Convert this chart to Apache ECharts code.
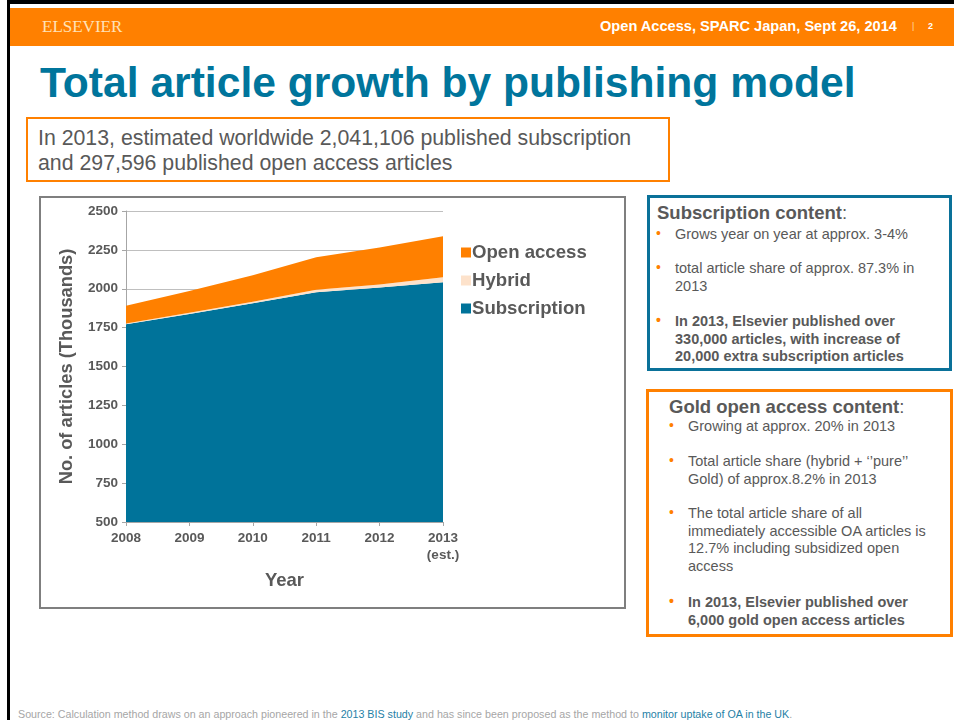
<!DOCTYPE html>
<html>
<head>
<meta charset="utf-8">
<script src="https://cdn.jsdelivr.net/npm/echarts@6/dist/echarts.min.js"></script>
<style>
  html,body{margin:0;padding:0;background:#fff;}
  body{width:954px;height:720px;position:relative;overflow:hidden;font-family:"Liberation Sans",Arial,sans-serif;}
  .abs{position:absolute;}
  #topline{left:7px;top:0;width:947px;height:4px;background:#000;}
  #leftline{left:7px;top:0;width:3px;height:720px;background:#000;}
  #header{left:10px;top:8px;width:944px;height:38px;background:#ff8000;}
  #logo{left:42px;top:17px;font-family:"Liberation Serif","DejaVu Serif",serif;font-size:17px;color:#ffe2b8;white-space:nowrap;}
  #hdr{left:600px;top:18px;font-size:14.6px;font-weight:bold;color:#fff;white-space:nowrap;}
  #hdrbar{left:912px;top:21px;font-size:9px;color:#ffd9a8;}
  #hdrnum{left:928px;top:21px;font-size:9px;font-weight:bold;color:#fff;}
  #title{left:40px;top:58px;font-size:42.6px;font-weight:bold;color:#00759c;white-space:nowrap;}
  #sub{left:26px;top:117px;width:640px;height:61px;border:2.5px solid #ff8000;box-sizing:content-box;}
  #subtxt{left:38px;top:126px;font-size:21.3px;color:#595959;line-height:25px;white-space:nowrap;}
  #chartbox{left:39px;top:196px;width:583px;height:409px;border:2px solid #7f7f7f;}
  #chart{left:41px;top:198px;width:583px;height:409px;}
  .box{position:absolute;box-sizing:border-box;color:#595959;}
  #box1{left:647px;top:195px;width:305px;height:176px;border:3px solid #0a7199;}
  #box2{left:646px;top:389px;width:307px;height:248px;border:3px solid #ff8000;}
  .bt{position:absolute;font-size:18.5px;line-height:21px;font-weight:bold;color:#595959;white-space:nowrap;}
  .bt span{font-weight:normal;}
  .li{position:absolute;font-size:14.5px;line-height:17.5px;color:#595959;}
  .li:before{content:"\2022";color:#ff8000;position:absolute;left:-19px;top:-1px;font-size:14px;}
  .b{font-weight:bold;}
  #foot{left:18px;top:708px;font-size:10.7px;color:#a6a6a6;white-space:nowrap;}
  #foot a{color:#1f7fa6;text-decoration:none;}
</style>
</head>
<body>
<div id="topline" class="abs"></div>
<div id="leftline" class="abs"></div>
<div id="header" class="abs"></div>
<div id="logo" class="abs">ELSEVIER</div>
<div id="hdr" class="abs">Open Access, SPARC Japan, Sept 26, 2014</div>
<div id="hdrbar" class="abs">|</div>
<div id="hdrnum" class="abs">2</div>
<div id="title" class="abs">Total article growth by publishing model</div>
<div id="sub" class="abs"></div>
<div id="subtxt" class="abs">In 2013, estimated worldwide 2,041,106 published subscription<br>and 297,596 published open access articles</div>
<div id="chartbox" class="abs"></div>
<div id="chart" class="abs"></div>

<div id="box1" class="box">
  <div class="bt" style="left:7px;top:4px;">Subscription content<span>:</span></div>
  <div class="li" style="left:25px;top:28px;width:270px;">Grows year on year at approx. 3-4%</div>
  <div class="li" style="left:25px;top:62px;width:250px;">total article share of approx. 87.3% in 2013</div>
  <div class="li b" style="left:25px;top:115px;width:245px;">In 2013, Elsevier published over 330,000 articles, with increase of 20,000 extra subscription articles</div>
</div>
<div id="box2" class="box">
  <div class="bt" style="left:20px;top:4px;">Gold open access content<span>:</span></div>
  <div class="li" style="left:39px;top:26px;width:255px;">Growing at approx. 20% in 2013</div>
  <div class="li" style="left:39px;top:61px;width:255px;">Total article share (hybrid + ‘’pure’’ Gold) of approx.8.2% in 2013</div>
  <div class="li" style="left:39px;top:113px;width:255px;">The total article share of all immediately accessible OA articles is 12.7% including subsidized open access</div>
  <div class="li b" style="left:39px;top:202px;width:245px;">In 2013, Elsevier published over 6,000 gold open access articles</div>
</div>
<div id="foot" class="abs">Source: Calculation method draws on an approach pioneered in the <a>2013 BIS study</a> and has since been proposed as the method to <a>monitor uptake of OA in the UK</a>.</div>

<script>
const years = ['2008', '2009', '2010', '2011', '2012', '2013\n(est.)'];
const subscription = [1771, 1838, 1906, 1977, 2008, 2041];
const hybrid = [5, 7, 10, 17, 20, 33];
const openAccess = [114, 140, 171, 209, 237, 264];
const yTicks = {min: 500, max: 2500, interval: 250};

const chart = echarts.init(document.getElementById('chart'));
const FF = 'Liberation Sans, Arial, sans-serif';
const lbl = {color: '#595959', fontWeight: 'bold', fontSize: 13.5, fontFamily: FF};
function areaSeries(name, data, color) {
  return {
    name: name, type: 'line', stack: 'total', data: data,
    symbol: 'none', lineStyle: {width: 0}, areaStyle: {color: color, opacity: 1},
    itemStyle: {color: color}, emphasis: {disabled: true}
  };
}
chart.setOption({
  animation: false,
  grid: {left: 85, right: 181, top: 13, bottom: 85, containLabel: false},
  legend: {
    orient: 'vertical', left: 415, top: 40, itemGap: 9,
    itemWidth: 10, itemHeight: 10, icon: 'rect',
    data: ['Open access', 'Hybrid', 'Subscription'],
    textStyle: {color: '#595959', fontWeight: 'bold', fontSize: 18.6, fontFamily: FF, padding: [0, 0, 0, -4]},
    selectedMode: false
  },
  xAxis: {
    type: 'category', data: years, boundaryGap: false,
    name: 'Year', nameLocation: 'middle', nameGap: 49,
    nameTextStyle: {color: '#595959', fontWeight: 'bold', fontSize: 18.5, fontFamily: FF},
    axisLine: {lineStyle: {color: '#a6a6a6'}},
    axisTick: {show: true, alignWithLabel: true, lineStyle: {color: '#a6a6a6'}, length: 4},
    axisLabel: Object.assign({margin: 8, lineHeight: 17}, lbl)
  },
  yAxis: {
    type: 'value', min: yTicks.min, max: yTicks.max, interval: yTicks.interval,
    name: 'No. of articles (Thousands)', nameLocation: 'middle', nameGap: 50, nameRotate: 90,
    nameTextStyle: {color: '#595959', fontWeight: 'bold', fontSize: 18.3, fontFamily: FF},
    axisLine: {show: true, lineStyle: {color: '#a6a6a6'}},
    axisTick: {show: true, lineStyle: {color: '#a6a6a6'}, length: 4},
    splitLine: {show: true, lineStyle: {color: '#bfbfbf'}},
    axisLabel: Object.assign({margin: 8, formatter: v => String(v)}, lbl)
  },
  series: [
    areaSeries('Subscription', subscription, '#00739a'),
    areaSeries('Hybrid', hybrid, '#fde2cb'),
    areaSeries('Open access', openAccess, '#ff8000')
  ]
});
</script>
</body>
</html>
